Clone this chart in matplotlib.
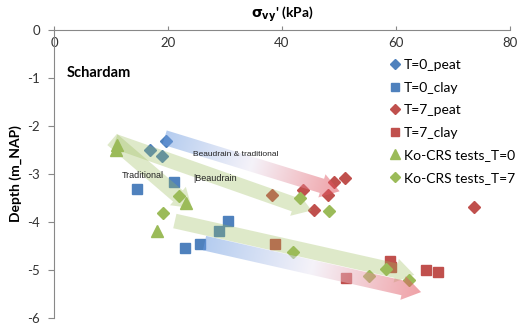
import numpy as np
import matplotlib
matplotlib.use('Agg')
import matplotlib.pyplot as plt
from matplotlib.patches import FancyArrowPatch
from matplotlib.colors import LinearSegmentedColormap

plt.rcParams['font.family'] = ['Lato', 'DejaVu Sans']
plt.rcParams['axes.unicode_minus'] = False

# ─── data (kPa, depth m_NAP) ────────────────────────────────────────────────
t0_peat_x = [19.6, 16.8, 18.9]
t0_peat_y = [-2.32, -2.49, -2.63]
t0_clay_x = [14.5, 21.0, 30.6, 28.9, 22.9, 25.7]
t0_clay_y = [-3.32, -3.17, -3.98, -4.19, -4.54, -4.46]
t7_peat_x = [43.6, 49.2, 51.1, 48.0, 45.7, 73.6, 38.2]
t7_peat_y = [-3.34, -3.17, -3.09, -3.44, -3.76, -3.69, -3.44]
t7_clay_x = [38.7, 51.3, 59.0, 59.2, 65.3, 67.3]
t7_clay_y = [-4.46, -5.17, -4.81, -4.94, -5.00, -5.04]
ko0_x = [11.0, 10.9, 23.1, 18.0]
ko0_y = [-2.39, -2.49, -3.61, -4.19]
ko7_x = [21.9, 19.1, 43.1, 48.2, 42.0, 58.3, 55.2, 62.2]
ko7_y = [-3.46, -3.82, -3.51, -3.78, -4.63, -4.98, -5.12, -5.21]

# trend arrows: (start, end)
green_arrows = [((10.2, -2.28), (24.2, -3.71)),
                ((10.7, -2.32), (45.2, -3.76)),
                ((21.2, -3.98), (63.2, -5.10))]
grad_arrows = [((19.4, -2.24), (50.1, -3.36)),
               ((26.4, -4.44), (64.4, -5.46))]

BLUE, RED, GREEN = '#4f81bd', '#c0504d', '#9bbb59'

fig = plt.figure(figsize=(5.2, 3.27), dpi=100)
ax = fig.add_axes([54 / 520, 9 / 327, 456 / 520, 288 / 327])

ms = 6.5
ax.plot(t0_peat_x, t0_peat_y, 'D', color=BLUE, ms=ms, ls='none', label='T=0_peat')
ax.plot(t0_clay_x, t0_clay_y, 's', color=BLUE, ms=ms + 0.5, ls='none', label='T=0_clay')
ax.plot(t7_peat_x, t7_peat_y, 'D', color=RED, ms=ms, ls='none', label='T=7_peat')
ax.plot(t7_clay_x, t7_clay_y, 's', color=RED, ms=ms + 0.5, ls='none', label='T=7_clay')
ax.plot(ko0_x, ko0_y, '^', color=GREEN, ms=ms + 2, ls='none', label='Ko-CRS tests_T=0')
ax.plot(ko7_x, ko7_y, 'D', color=GREEN, ms=ms, ls='none', label='Ko-CRS tests_T=7')

ax.set_xlim(0, 80)
ax.set_ylim(-6, 0)

style = 'simple,head_width=1.25,head_length=0.95,tail_width=0.76'
for p0, p1 in green_arrows:
    arr = FancyArrowPatch(p0, p1, arrowstyle=style, mutation_scale=14,
                          shrinkA=0, shrinkB=0, fc=GREEN, ec='none',
                          alpha=0.32, zorder=4)
    ax.add_patch(arr)

cmap = LinearSegmentedColormap.from_list('br', ['#6a9ae0', '#ebe6f3', '#e04550'])
for p0, p1 in grad_arrows:
    arr = FancyArrowPatch(p0, p1, arrowstyle=style, mutation_scale=14,
                          shrinkA=0, shrinkB=0, fc='none', ec='none', zorder=4)
    ax.add_patch(arr)
    xs = np.linspace(p0[0] - 3, p1[0] + 3, 300)
    ys = np.linspace(p1[1] - 0.4, p0[1] + 0.4, 120)
    X, Y = np.meshgrid(xs, ys)
    pts = ax.transData.transform(np.column_stack([X.ravel(), Y.ravel()]))
    a = ax.transData.transform(p0)
    b = ax.transData.transform(p1)
    d = b - a
    t = ((pts - a) @ d) / (d @ d)
    t = np.clip(t, 0, 1).reshape(X.shape)
    im = ax.imshow(t, extent=[xs[0], xs[-1], ys[0], ys[-1]], origin='lower',
                   cmap=cmap, alpha=0.5, aspect='auto', zorder=4,
                   interpolation='bilinear')
    im.set_clip_path(arr)

ax.set_xlim(0, 80)
ax.set_ylim(-6, 0)

ax.text(24.3, -2.59, 'Beaudrain & traditional', fontsize=6, family='Liberation Sans',
        va='center', color='#222222', zorder=6)
ax.text(11.9, -3.03, 'Traditional', fontsize=6.5, family='Liberation Sans',
        va='center', color='#222222', zorder=6)
ax.text(24.5, -3.09, '|Beaudrain', fontsize=6.5, family='Liberation Sans',
        va='center', color='#222222', zorder=6)
ax.text(2.3, -0.89, 'Schardam', fontsize=10.5, fontweight='bold', va='center')

# axes styling (Excel-like: x axis on top, labels under the line)
for s in ['right', 'bottom']:
    ax.spines[s].set_visible(False)
for s in ['left', 'top']:
    ax.spines[s].set_color('#888888')
ax.xaxis.tick_top()
ax.set_xticks([0, 20, 40, 60, 80])
ax.set_yticks([-6, -5, -4, -3, -2, -1, 0])
ax.tick_params(axis='x', direction='out', length=3, color='#888888',
               labelsize=9.5, pad=-17, labelcolor='#333333')
ax.tick_params(axis='y', direction='out', length=4, color='#888888',
               labelsize=9.5, pad=6, labelcolor='#333333')
ax.xaxis.set_label_position('top')
ax.set_xlabel(r"$\mathbf{\sigma_{vy}}$' (kPa)", fontsize=10, fontweight='bold', labelpad=6)
ax.set_ylabel('Depth (m_NAP)', fontsize=10, fontweight='bold', labelpad=4)

ax.legend(loc='upper left', bbox_to_anchor=(390 / 520, (327 - 59) / 327),
          bbox_transform=fig.transFigure, frameon=False, fontsize=10,
          handlelength=0.7, handletextpad=0.3, labelspacing=0.76,
          borderpad=0, borderaxespad=0, markerscale=0.8)

fig.savefig('out.png', dpi=100)
